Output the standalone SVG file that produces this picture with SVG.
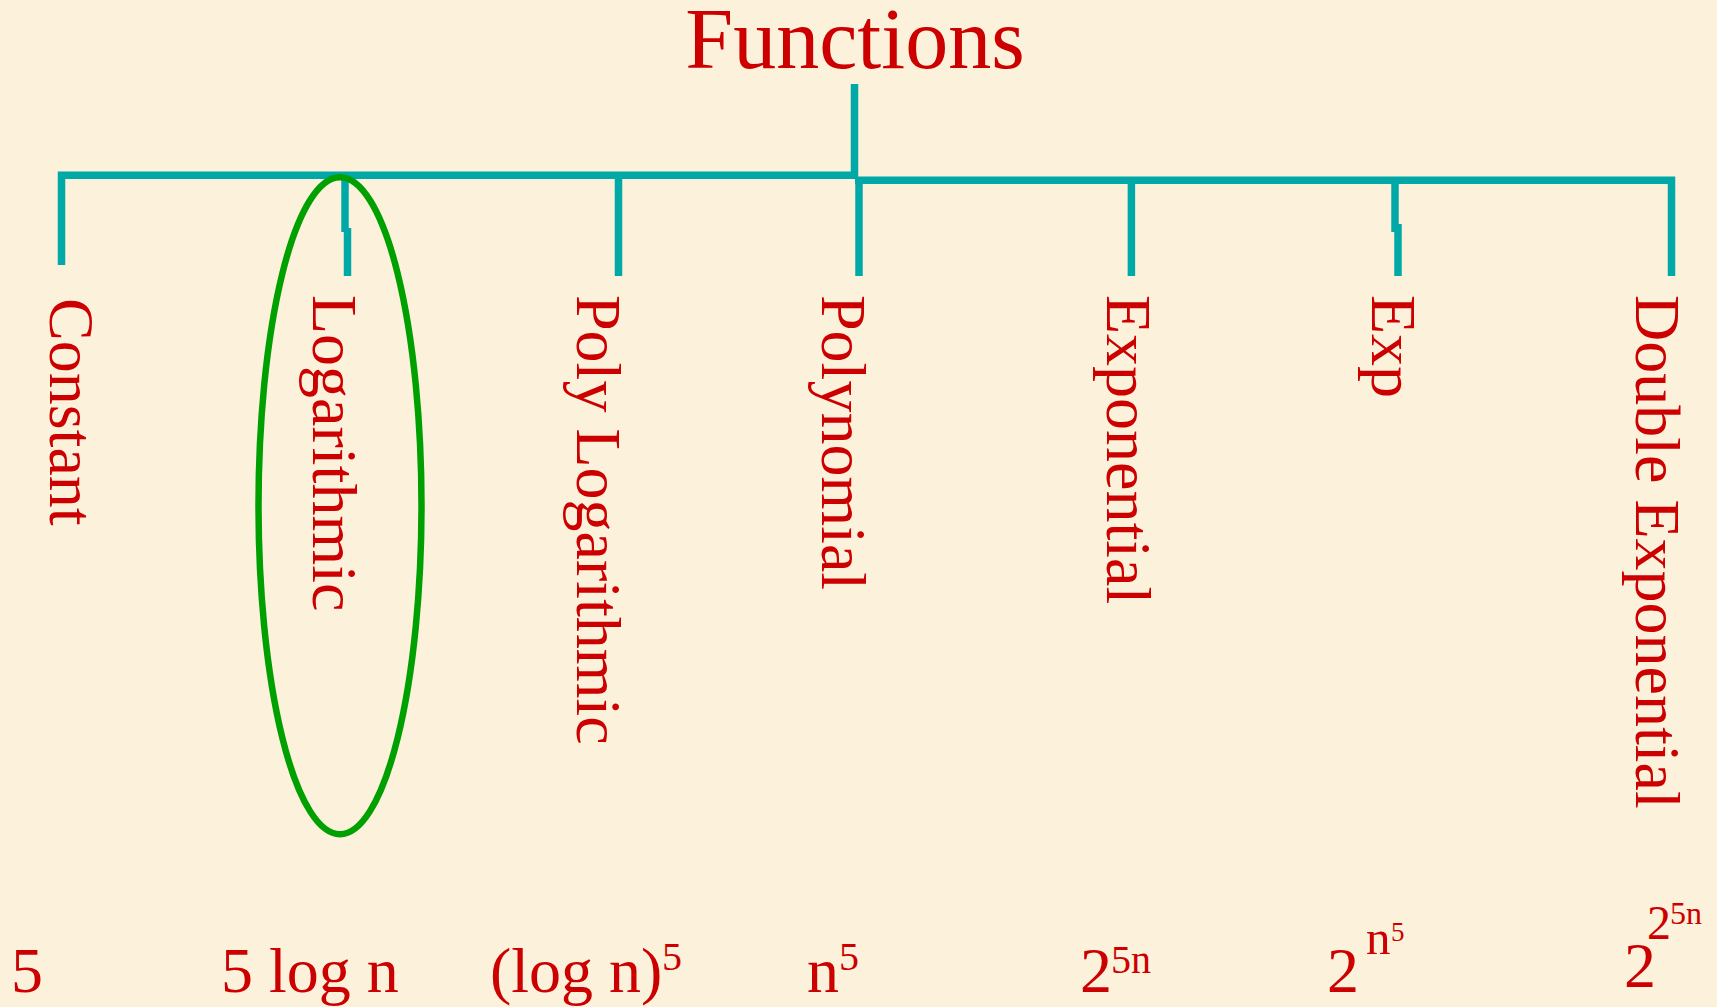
<svg xmlns="http://www.w3.org/2000/svg" width="1717" height="1007" viewBox="0 0 1717 1007">
  <style>
    .bg { fill: #fcf2db; }
    .wire { fill: none; stroke: #00a8a8; stroke-width: 7.5; stroke-linecap: butt; stroke-linejoin: miter; }
    .lbl { font-family: "Liberation Serif", "Times New Roman", serif; fill: #cc0000; }
    .side { font-size: 64px; }
    .main { font-size: 64px; }
    .title { font-size: 86px; }
    .ring { fill: none; stroke: #00a000; stroke-width: 6.5; }
  </style>

  <rect class="bg" x="0" y="0" width="1717" height="1007"/>

  <!-- heading -->
  <g id="functions">
    <text class="lbl title" x="855" y="68" text-anchor="middle">Functions</text>
  </g>

  <!-- tree of branches -->
  <g id="connectors">
    <path class="wire" d="M854.5 84 V179"/>
    <path class="wire" d="M61.5 265 V175.3 H858"/>
    <path class="wire" d="M855 180.3 H1671.5 V276"/>
    <path class="wire" d="M345 175 V232"/>
    <path class="wire" d="M347.5 228 V276"/>
    <path class="wire" d="M618.5 179 V276"/>
    <path class="wire" d="M859 180 V276"/>
    <path class="wire" d="M1131.4 184 V276"/>
    <path class="wire" d="M1395 184 V232"/>
    <path class="wire" d="M1398 224 V276"/>
  </g>

  <g id="constant">
    <text class="lbl side" x="49.5" y="298" transform="rotate(90 49.5 298)">Constant</text>
    <text class="lbl main" x="11" y="992">5</text>
  </g>

  <g id="logarithmic">
    <text class="lbl side" x="313" y="295" transform="rotate(90 313 295)">Logarithmic</text>
    <text class="lbl main" x="221" y="992">5 log n</text>
    <ellipse class="ring" cx="340" cy="505.7" rx="81.5" ry="328.5"/>
  </g>

  <g id="poly-logarithmic">
    <text class="lbl side" x="577" y="295" transform="rotate(90 577 295)">Poly Logarithmic</text>
    <text class="lbl main" x="490" y="992">(log n)</text>
    <text class="lbl" x="662" y="970" font-size="40">5</text>
  </g>

  <g id="polynomial">
    <text class="lbl side" x="822" y="295" transform="rotate(90 822 295)">Polynomial</text>
    <text class="lbl main" x="807" y="992">n</text>
    <text class="lbl" x="839" y="970" font-size="40">5</text>
  </g>

  <g id="exponential">
    <text class="lbl side" x="1107" y="295" transform="rotate(90 1107 295)">Exponential</text>
    <text class="lbl main" x="1080" y="992">2</text>
    <text class="lbl" x="1111" y="973" font-size="40">5n</text>
  </g>

  <g id="exp">
    <text class="lbl side" x="1372" y="295" transform="rotate(90 1372 295)">Exp</text>
    <text class="lbl main" x="1327" y="992">2</text>
    <text class="lbl" x="1366" y="954" font-size="49">n</text>
    <text class="lbl" x="1391" y="941" font-size="27">5</text>
  </g>

  <g id="double-exponential">
    <text class="lbl side" x="1636" y="295" transform="rotate(90 1636 295)">Double Exponential</text>
    <text class="lbl main" x="1624" y="987">2</text>
    <text class="lbl" x="1647" y="939" font-size="48">2</text>
    <text class="lbl" x="1670" y="924" font-size="32">5n</text>
  </g>
</svg>
